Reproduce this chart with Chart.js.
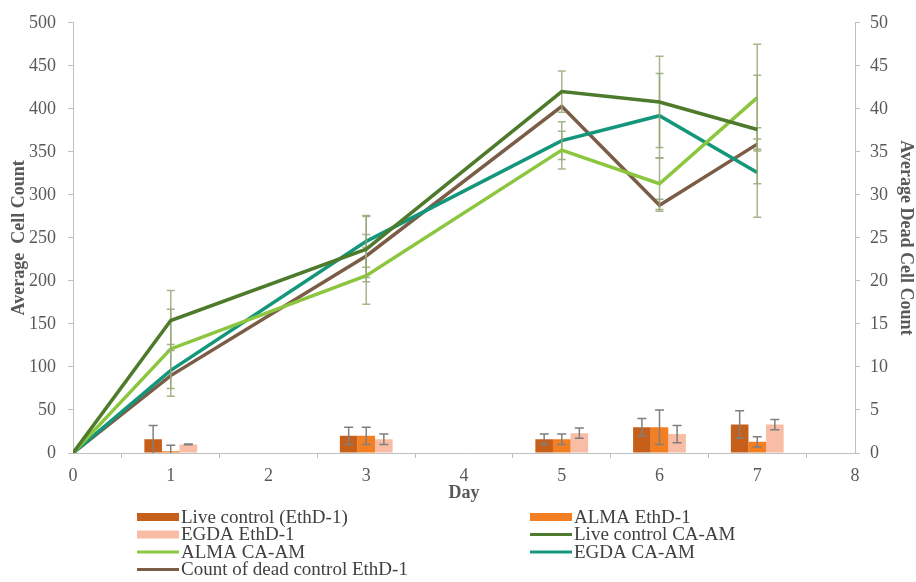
<!DOCTYPE html>
<html>
<head>
<meta charset="utf-8">
<title>Average cell count by day</title>
<script src="https://cdn.jsdelivr.net/npm/chart.js@4.4.1/dist/chart.umd.min.js"></script>
<style>
  html, body { margin: 0; padding: 0; background: #fff; }
</style>
</head>
<body>
<canvas id="cellChart" width="916" height="582"></canvas>
<script>
// days on the x axis
const lineDays = [0, 1, 3, 5, 6, 7];
const barDays = [1, 3, 5, 6, 7];

// dead cell counts (right axis), bars
const liveEthd = [1.6, 2.0, 1.6, 3.0, 3.3];
const liveEthdErr = [1.6, 1.0, 0.6, 1.0, 1.6];
const almaEthd = [0.2, 2.0, 1.6, 3.0, 1.3];
const almaEthdErr = [0.7, 1.0, 0.6, 2.0, 0.6];
const egdaEthd = [1.0, 1.6, 2.3, 2.2, 3.3];
const egdaEthdErr = [0.05, 0.6, 0.6, 1.0, 0.6];

// live cell counts (left axis), lines
const liveCaAm = [0, 154, 237, 420, 408, 376];
const liveCaAmErr = [0, 35, 38, 24, 53, 63];
const almaCaAm = [0, 121, 206, 352, 313, 413];
const almaCaAmErr = [0, 46, 33, 22, 30, 62];
const egdaCaAm = [0, 96, 246, 363, 392, 326];
const egdaCaAmErr = [0, 30, 30, 22, 49, 52];
const deadControl = [0, 90, 229, 403, 288, 359];
const deadControlErr = [0, 0, 25, 0, 7, 6];

const labelColor = '#595959';
const axisColor = '#bfbfbf';
const serif = "'Liberation Serif', 'Times New Roman', serif";

function toPoints(xs, ys) {
    return ys.map((y, i) => ({ x: xs[i], y: y }));
}

function barSet(label, values, errors, color) {
    return {
        type: 'bar',
        label: label,
        data: toPoints(barDays, values),
        errors: errors,
        errorColor: '#7f7f7f',
        capWidth: 9,
        yAxisID: 'y2',
        backgroundColor: color,
        borderWidth: 0,
        categoryPercentage: 0.54,
        barPercentage: 1.0
    };
}

function lineSet(label, values, errors, color) {
    return {
        type: 'line',
        label: label,
        data: toPoints(lineDays, values),
        errors: errors,
        errorColor: 'rgba(150, 168, 120, 0.85)',
        capWidth: 8,
        yAxisID: 'y',
        borderColor: color,
        backgroundColor: color,
        borderWidth: 3.5,
        pointRadius: 0,
        tension: 0,
        fill: false
    };
}

function drawErrors(chart, index) {
    const ds = chart.data.datasets[index];
    if (!ds.errors) return;
    const meta = chart.getDatasetMeta(index);
    const yScale = chart.scales[ds.yAxisID];
    const ctx = chart.ctx;
    ctx.save();
    ctx.strokeStyle = ds.errorColor;
    ctx.lineWidth = 1.5;
    meta.data.forEach((el, i) => {
        const err = ds.errors[i];
        if (!err) return;
        const v = ds.data[i].y;
        const top = yScale.getPixelForValue(v + err);
        const bot = yScale.getPixelForValue(Math.max(v - err, 0));
        const half = ds.capWidth / 2;
        ctx.beginPath();
        ctx.moveTo(el.x, top);
        ctx.lineTo(el.x, bot);
        ctx.moveTo(el.x - half, top);
        ctx.lineTo(el.x + half, top);
        if (v - err > 0) {
            ctx.moveTo(el.x - half, bot);
            ctx.lineTo(el.x + half, bot);
        }
        ctx.stroke();
    });
    ctx.restore();
}

const errorBarPlugin = {
    id: 'errorBars',
    beforeDatasetDraw(chart, args) {
        if (chart.data.datasets[args.index].type === 'line') drawErrors(chart, args.index);
    },
    afterDatasetDraw(chart, args) {
        if (chart.data.datasets[args.index].type === 'bar') drawErrors(chart, args.index);
    }
};

// two column legend under the x axis
const gridLegendPlugin = {
    id: 'gridLegend',
    afterDraw(chart) {
        const ctx = chart.ctx;
        const area = chart.chartArea;
        const colX = [area.left + 64, area.left + 457];
        const rowY0 = area.bottom + 64;
        const rowGap = 17.5;
        const markW = 42;
        ctx.save();
        ctx.font = '19px ' + serif;
        ctx.textBaseline = 'middle';
        chart.data.datasets.forEach((ds, i) => {
            const x = colX[i % 2];
            const y = rowY0 + Math.floor(i / 2) * rowGap;
            if (ds.type === 'bar') {
                ctx.fillStyle = ds.backgroundColor;
                ctx.fillRect(x, y - 4, markW, 8);
            } else {
                ctx.strokeStyle = ds.borderColor;
                ctx.lineWidth = 3;
                ctx.beginPath();
                ctx.moveTo(x, y);
                ctx.lineTo(x + markW, y);
                ctx.stroke();
            }
            ctx.fillStyle = '#404040';
            ctx.fillText(ds.label, x + markW + 2, y + 1);
        });
        ctx.restore();
    }
};

const tickFont = { family: serif, size: 18 };
const titleFont = { family: serif, size: 18, weight: 'bold' };

new Chart(document.getElementById('cellChart').getContext('2d'), {
    type: 'bar',
    data: {
        datasets: [
            barSet('Live control (EthD-1)', liveEthd, liveEthdErr, '#c65f1a'),
            barSet('ALMA EthD-1', almaEthd, almaEthdErr, '#f47f22'),
            barSet('EGDA EthD-1', egdaEthd, egdaEthdErr, '#f8bda4'),
            lineSet('Live control CA-AM', liveCaAm, liveCaAmErr, '#4e7a2b'),
            lineSet('ALMA CA-AM', almaCaAm, almaCaAmErr, '#8cc63f'),
            lineSet('EGDA CA-AM', egdaCaAm, egdaCaAmErr, '#14967a'),
            lineSet('Count of dead control EthD-1', deadControl, deadControlErr, '#7b5d47')
        ]
    },
    options: {
        responsive: false,
        animation: false,
        layout: { padding: { top: 20, left: 0, right: 0, bottom: 78 } },
        plugins: {
            legend: { display: false },
            tooltip: { enabled: false }
        },
        scales: {
            x: {
                type: 'linear',
                min: 0,
                max: 8,
                offset: false,
                ticks: { stepSize: 1, color: labelColor, font: tickFont, padding: 7 },
                grid: { drawOnChartArea: false, drawTicks: true, tickLength: 5, color: axisColor },
                border: { color: axisColor },
                title: { display: true, text: 'Day', color: labelColor, font: titleFont, padding: 0 },
                afterFit: s => { s.height = 51; }
            },
            y: {
                position: 'left',
                min: 0,
                max: 500,
                ticks: { stepSize: 50, color: labelColor, font: tickFont, padding: 12 },
                grid: { drawOnChartArea: false, drawTicks: true, tickLength: 5, color: axisColor },
                border: { color: axisColor },
                title: { display: true, text: 'Average  Cell Count', color: labelColor, font: titleFont, padding: { top: 9, bottom: 0 } },
                afterFit: s => { s.width = 73; }
            },
            y2: {
                position: 'right',
                min: 0,
                max: 50,
                ticks: { stepSize: 5, color: labelColor, font: tickFont, padding: 10 },
                grid: { drawOnChartArea: false, drawTicks: true, tickLength: 5, color: axisColor },
                border: { color: axisColor },
                title: { display: true, text: 'Average Dead Cell Count', color: labelColor, font: titleFont, padding: { top: 0, bottom: 0 } },
                afterFit: s => { s.width = 61; }
            }
        }
    },
    plugins: [errorBarPlugin, gridLegendPlugin]
});
</script>
</body>
</html>
